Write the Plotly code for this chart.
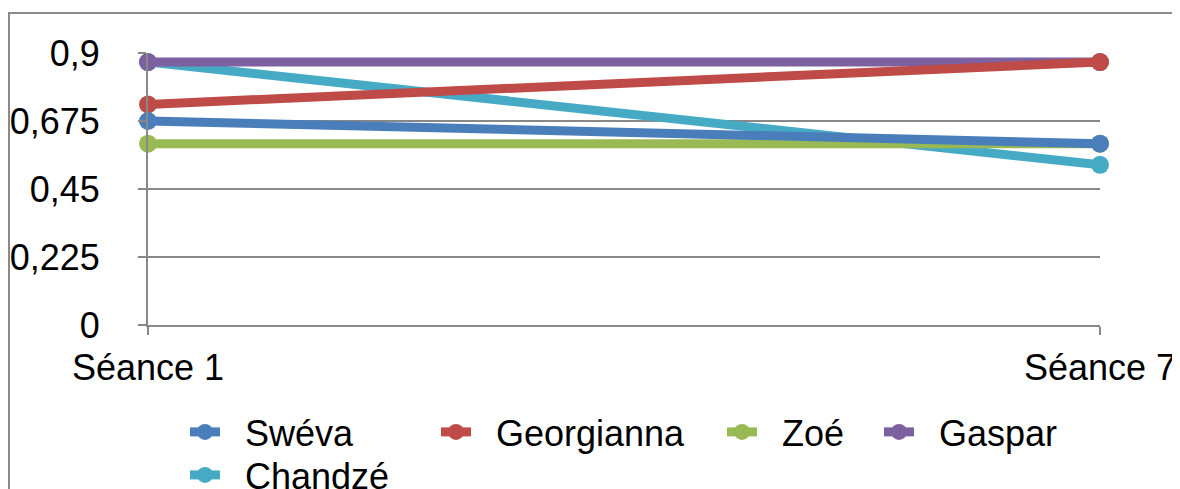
import plotly.graph_objects as go

categories = ["Séance 1", "Séance 7"]
names = ["Swéva", "Georgianna", "Zoé", "Gaspar", "Chandzé"]
swéva = [0.675, 0.60]
georgianna = [0.73, 0.87]
zoé = [0.60, 0.60]
gaspar = [0.87, 0.87]
chandzé = [0.87, 0.53]
y_ticks = [0, 0.225, 0.45, 0.675, 0.9]

series = [swéva, georgianna, zoé, gaspar, chandzé]
colors = ["#4A7EBB", "#BE4B48", "#98B954", "#7D60A0", "#46AAC5"]
# legend symbol centres and row centres (page pixels)
leg_pos = [(205, 432), (456, 432), (742, 432), (899, 432), (205, 475)]

OFF = 8  # default body margin of the html page
W, H = 1180 - OFF, 489 - OFF
FONT = "Liberation Sans, Arial, sans-serif"
FS = 36
GRID = "#888888"

# plot area in page pixels
PL, PR, PT, PB = 148, 1100, 53, 325
pw, ph = PR - PL, PB - PT

fig = go.Figure()
x = list(range(len(categories)))
# draw in reverse order so the first series sits on top
for i in reversed(range(len(names))):
    fig.add_trace(go.Scatter(
        x=x, y=series[i], name="\u00a0\u00a0" + names[i], mode="lines+markers",
        line=dict(color=colors[i], width=9),
        marker=dict(color=colors[i], size=18),
        cliponaxis=False, showlegend=True,
        legend="legend" if i == 0 else f"legend{i+1}",
    ))

layout_legends = {}
for i, (cx, cy) in enumerate(leg_pos):
    key = "legend" if i == 0 else f"legend{i+1}"
    layout_legends[key] = dict(
        xref="container", yref="container",
        x=(cx - OFF - 20) / W, y=1 - (cy - OFF) / H,
        xanchor="left", yanchor="middle",
        font=dict(family=FONT, size=FS, color="#000000"),
        borderwidth=0, bgcolor="rgba(0,0,0,0)",
        tracegroupgap=0, visible=True,
    )

fig.update_layout(
    width=W, height=H,
    margin=dict(l=PL - OFF, r=W - (PR - OFF), t=PT - OFF, b=H - (PB - OFF),
                autoexpand=False),
    paper_bgcolor="white", plot_bgcolor="white",
    separators=", ",
    showlegend=True,
    font=dict(family=FONT, size=FS, color="#000000"),
    **layout_legends,
    xaxis=dict(
        range=[0, 1], tickvals=x, ticktext=categories,
        showgrid=False, zeroline=False,
        showline=True, linecolor=GRID, linewidth=2,
        ticks="outside", ticklen=8, tickwidth=2, tickcolor=GRID,
        ticklabelstandoff=2, tickangle=0, automargin=False,
        tickfont=dict(family=FONT, size=FS, color="#000000"),
    ),
    yaxis=dict(
        range=[0, 0.9], tickvals=y_ticks,
        showgrid=True, gridcolor=GRID, gridwidth=2,
        zeroline=False, automargin=False,
        showline=True, linecolor=GRID, linewidth=2,
        ticks="outside", ticklen=8, tickwidth=2, tickcolor=GRID,
        ticklabelstandoff=31,
        tickfont=dict(family=FONT, size=FS, color="#000000"),
    ),
    shapes=[dict(
        type="rect", xref="paper", yref="paper",
        x0=(9 - PL) / pw, x1=(1178 - PL) / pw,
        y0=(PB - 520) / ph, y1=(PB - 13) / ph,
        line=dict(color="#8a8a8a", width=2), layer="below",
    )],
)

fig.write_html("out.html")
